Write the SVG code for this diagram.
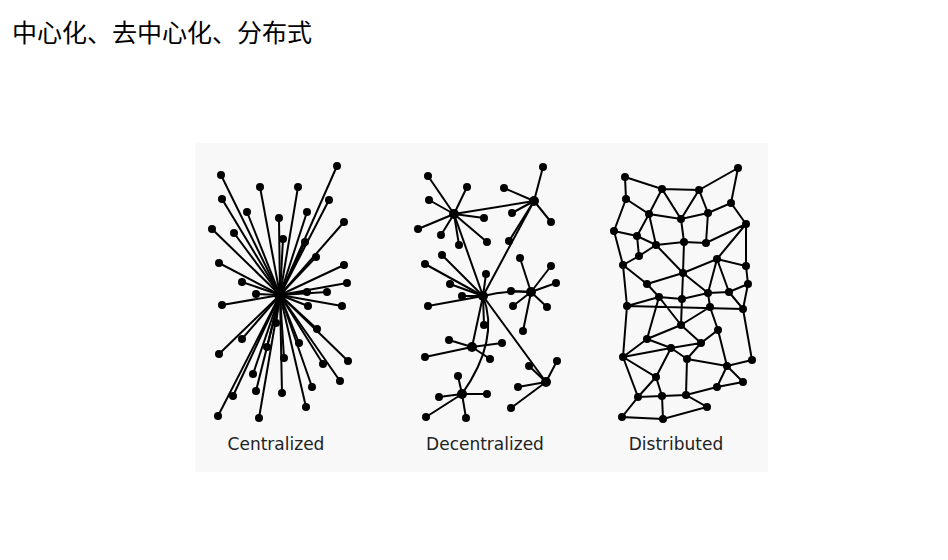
<svg xmlns="http://www.w3.org/2000/svg" width="948" height="560" viewBox="0 0 948 560">
<style>
.e line,.e path{stroke:#000;stroke-width:2;fill:none}
.n circle{fill:#000}
.lbl{font-family:"DejaVu Sans",sans-serif;font-size:17px;fill:#222;text-anchor:middle}
</style>
<rect width="948" height="560" fill="#fff"/>
<text x="12" y="42" font-family="'Noto Sans CJK SC',sans-serif" font-size="25" fill="#000">中心化、去中心化、分布式</text>
<rect x="195" y="143" width="573" height="329" fill="#f8f8f8"/>
<g id="centralized">
<g class="e" id="c-edges">
<line x1="280" y1="295" x2="221" y2="175"/><line x1="280" y1="295" x2="260" y2="187"/><line x1="280" y1="295" x2="298" y2="187"/><line x1="280" y1="295" x2="337" y2="166"/><line x1="280" y1="295" x2="222" y2="199"/><line x1="280" y1="295" x2="247" y2="212"/><line x1="280" y1="295" x2="279" y2="218"/><line x1="280" y1="295" x2="307" y2="212"/><line x1="280" y1="295" x2="329" y2="200"/><line x1="280" y1="295" x2="344" y2="222"/><line x1="280" y1="295" x2="212" y2="229"/><line x1="280" y1="295" x2="234" y2="233"/><line x1="280" y1="295" x2="283" y2="239"/><line x1="280" y1="295" x2="305" y2="242"/><line x1="280" y1="295" x2="316" y2="257"/><line x1="280" y1="295" x2="219" y2="263"/><line x1="280" y1="295" x2="344" y2="265"/><line x1="280" y1="295" x2="242" y2="282"/><line x1="280" y1="295" x2="347" y2="283"/><line x1="280" y1="295" x2="327" y2="292"/><line x1="280" y1="295" x2="307" y2="292"/><line x1="280" y1="295" x2="256" y2="294"/><line x1="280" y1="295" x2="222" y2="305"/><line x1="280" y1="295" x2="308" y2="306"/><line x1="280" y1="295" x2="342" y2="306"/><line x1="280" y1="295" x2="276" y2="323"/><line x1="280" y1="295" x2="317" y2="329"/><line x1="280" y1="295" x2="242" y2="339"/><line x1="280" y1="295" x2="267" y2="347"/><line x1="280" y1="295" x2="299" y2="343"/><line x1="280" y1="295" x2="219" y2="354"/><line x1="280" y1="295" x2="284" y2="358"/><line x1="280" y1="295" x2="323" y2="364"/><line x1="280" y1="295" x2="348" y2="361"/><line x1="280" y1="295" x2="253" y2="374"/><line x1="280" y1="295" x2="340" y2="381"/><line x1="280" y1="295" x2="312" y2="387"/><line x1="280" y1="295" x2="256" y2="391"/><line x1="280" y1="295" x2="282" y2="393"/><line x1="280" y1="295" x2="233" y2="396"/><line x1="280" y1="295" x2="306" y2="407"/><line x1="280" y1="295" x2="218" y2="416"/><line x1="280" y1="295" x2="259" y2="418"/>
</g>
<g class="n" id="c-nodes">
<circle cx="280" cy="295" r="6"/><circle cx="221" cy="175" r="4"/><circle cx="260" cy="187" r="4"/><circle cx="298" cy="187" r="4"/><circle cx="337" cy="166" r="4"/><circle cx="222" cy="199" r="4"/><circle cx="247" cy="212" r="4"/><circle cx="279" cy="218" r="4"/><circle cx="307" cy="212" r="4"/><circle cx="329" cy="200" r="4"/><circle cx="344" cy="222" r="4"/><circle cx="212" cy="229" r="4"/><circle cx="234" cy="233" r="4"/><circle cx="283" cy="239" r="4"/><circle cx="305" cy="242" r="4"/><circle cx="316" cy="257" r="4"/><circle cx="219" cy="263" r="4"/><circle cx="344" cy="265" r="4"/><circle cx="242" cy="282" r="4"/><circle cx="347" cy="283" r="4"/><circle cx="327" cy="292" r="4"/><circle cx="307" cy="292" r="4"/><circle cx="256" cy="294" r="4"/><circle cx="222" cy="305" r="4"/><circle cx="308" cy="306" r="4"/><circle cx="342" cy="306" r="4"/><circle cx="276" cy="323" r="4"/><circle cx="317" cy="329" r="4"/><circle cx="242" cy="339" r="4"/><circle cx="267" cy="347" r="4"/><circle cx="299" cy="343" r="4"/><circle cx="219" cy="354" r="4"/><circle cx="284" cy="358" r="4"/><circle cx="323" cy="364" r="4"/><circle cx="348" cy="361" r="4"/><circle cx="253" cy="374" r="4"/><circle cx="340" cy="381" r="4"/><circle cx="312" cy="387" r="4"/><circle cx="256" cy="391" r="4"/><circle cx="282" cy="393" r="4"/><circle cx="233" cy="396" r="4"/><circle cx="306" cy="407" r="4"/><circle cx="218" cy="416" r="4"/><circle cx="259" cy="418" r="4"/>
</g>
<text class="lbl" x="276" y="450">Centralized</text>
</g>
<g id="decentralized">
<g class="e" id="d-edges">
<line x1="454" y1="214" x2="428" y2="176"/><line x1="454" y1="214" x2="467" y2="187"/><line x1="454" y1="214" x2="429" y2="200"/><line x1="454" y1="214" x2="484" y2="218"/><line x1="454" y1="214" x2="418" y2="229"/><line x1="454" y1="214" x2="441" y2="235"/><line x1="454" y1="214" x2="487" y2="242"/><line x1="454" y1="214" x2="459" y2="245"/>
<line x1="534" y1="201" x2="543" y2="167"/><line x1="534" y1="201" x2="504" y2="188"/><line x1="534" y1="201" x2="512" y2="213"/><line x1="534" y1="201" x2="551" y2="222"/><line x1="534" y1="201" x2="509" y2="241"/><line x1="534" y1="201" x2="454" y2="214"/>
<line x1="483" y1="296" x2="454" y2="214"/><line x1="483" y1="296" x2="534" y2="201"/>
<line x1="483" y1="296" x2="442" y2="255"/><line x1="483" y1="296" x2="425" y2="264"/><line x1="483" y1="296" x2="486" y2="274"/><line x1="483" y1="296" x2="450" y2="284"/><line x1="483" y1="296" x2="462" y2="296"/><line x1="483" y1="296" x2="428" y2="306"/><line x1="483" y1="296" x2="484" y2="325"/>
<path d="M483 296 Q507 290 531 292"/>
<line x1="531" y1="292" x2="520" y2="258"/><line x1="531" y1="292" x2="551" y2="266"/><line x1="531" y1="292" x2="556" y2="283"/><line x1="531" y1="292" x2="511" y2="291"/><line x1="531" y1="292" x2="513" y2="306"/><line x1="531" y1="292" x2="547" y2="307"/><line x1="531" y1="292" x2="523" y2="331"/>
<line x1="483" y1="296" x2="472" y2="347"/>
<line x1="472" y1="347" x2="449" y2="340"/><line x1="472" y1="347" x2="502" y2="343"/><line x1="472" y1="347" x2="425" y2="357"/><line x1="472" y1="347" x2="490" y2="359"/>
<line x1="483" y1="296" x2="546" y2="382"/>
<line x1="546" y1="382" x2="529" y2="366"/><line x1="546" y1="382" x2="557" y2="361"/><line x1="546" y1="382" x2="518" y2="387"/><line x1="546" y1="382" x2="511" y2="408"/>
<path d="M483 296 Q500 340 462 394"/>
<line x1="462" y1="394" x2="458" y2="376"/><line x1="462" y1="394" x2="487" y2="394"/><line x1="462" y1="394" x2="439" y2="397"/><line x1="462" y1="394" x2="426" y2="417"/><line x1="462" y1="394" x2="466" y2="418"/>
</g>
<g class="n" id="d-nodes">
<circle cx="454" cy="214" r="5"/><circle cx="534" cy="201" r="5"/><circle cx="483" cy="296" r="5"/><circle cx="531" cy="292" r="5"/><circle cx="472" cy="347" r="5"/><circle cx="546" cy="382" r="5"/><circle cx="462" cy="394" r="5"/>
<circle cx="428" cy="176" r="4"/><circle cx="467" cy="187" r="4"/><circle cx="429" cy="200" r="4"/><circle cx="484" cy="218" r="4"/><circle cx="418" cy="229" r="4"/><circle cx="441" cy="235" r="4"/><circle cx="487" cy="242" r="4"/><circle cx="459" cy="245" r="4"/>
<circle cx="543" cy="167" r="4"/><circle cx="504" cy="188" r="4"/><circle cx="512" cy="213" r="4"/><circle cx="551" cy="222" r="4"/><circle cx="509" cy="241" r="4"/>
<circle cx="442" cy="255" r="4"/><circle cx="425" cy="264" r="4"/><circle cx="486" cy="274" r="4"/><circle cx="450" cy="284" r="4"/><circle cx="462" cy="296" r="4"/><circle cx="428" cy="306" r="4"/><circle cx="484" cy="325" r="4"/>
<circle cx="520" cy="258" r="4"/><circle cx="551" cy="266" r="4"/><circle cx="556" cy="283" r="4"/><circle cx="511" cy="291" r="4"/><circle cx="513" cy="306" r="4"/><circle cx="547" cy="307" r="4"/><circle cx="523" cy="331" r="4"/>
<circle cx="449" cy="340" r="4"/><circle cx="502" cy="343" r="4"/><circle cx="425" cy="357" r="4"/><circle cx="490" cy="359" r="4"/>
<circle cx="529" cy="366" r="4"/><circle cx="557" cy="361" r="4"/><circle cx="518" cy="387" r="4"/><circle cx="511" cy="408" r="4"/>
<circle cx="458" cy="376" r="4"/><circle cx="487" cy="394" r="4"/><circle cx="439" cy="397" r="4"/><circle cx="426" cy="417" r="4"/><circle cx="466" cy="418" r="4"/>
</g>
<text class="lbl" x="485" y="450">Decentralized</text>
</g>
<g id="distributed">
<g class="e" id="m-edges">
<path d="M625 177L662 189L699 190L738 168M625 177L626 199M738 168L731 203M662 189L649 214M662 189L681 219L699 190L708 213M626 199L649 214L681 219L708 213L731 203L746 224M626 199L614 231L637 236L656 245L684 242L706 243L746 224M708 213L706 243M681 219L684 242M649 214L637 236M649 214L656 245M614 231L623 265M637 236L639 256L623 265M639 256L656 245M746 224L717 259M746 224L746 266M656 245L683 273M684 242L683 273M623 265L647 284M683 273L717 259L746 266L748 284M683 273L647 284M717 259L708 293M717 259L729 292M623 265L627 306M647 284L659 297L682 299L708 293L729 292L748 284M683 273L708 293M682 299L683 273M659 297L627 306M627 306L623 357M627 306L743 309M659 297L681 325M682 299L681 325M708 293L710 307M729 292L743 309M748 284L743 309M710 307L718 330M681 325L710 307M743 309L752 360M681 325L647 339M659 297L647 339M681 325L701 343M647 339L671 348L701 343L718 330L727 366M623 357L647 339M623 357L671 348M671 348L687 359L701 343M687 359L727 366L752 360M727 366L743 382M623 357L656 377L671 348M656 377L638 397M656 377L662 396M638 397L662 396L686 395L717 387L743 382M687 359L686 395M717 387L727 366M623 357L638 397L622 417L663 419L707 407L686 395M662 396L663 419"/>
</g>
<g class="n" id="m-nodes">
<circle cx="625" cy="177" r="4"/><circle cx="662" cy="189" r="4"/><circle cx="699" cy="190" r="4"/><circle cx="738" cy="168" r="4"/><circle cx="626" cy="199" r="4"/><circle cx="649" cy="214" r="4"/><circle cx="681" cy="219" r="4"/><circle cx="708" cy="213" r="4"/><circle cx="731" cy="203" r="4"/><circle cx="746" cy="224" r="4"/><circle cx="614" cy="231" r="4"/><circle cx="637" cy="236" r="4"/><circle cx="656" cy="245" r="4"/><circle cx="684" cy="242" r="4"/><circle cx="706" cy="243" r="4"/><circle cx="717" cy="259" r="4"/><circle cx="639" cy="256" r="4"/><circle cx="623" cy="265" r="4"/><circle cx="746" cy="266" r="4"/><circle cx="683" cy="273" r="4"/><circle cx="647" cy="284" r="4"/><circle cx="748" cy="284" r="4"/><circle cx="659" cy="297" r="4"/><circle cx="682" cy="299" r="4"/><circle cx="708" cy="293" r="4"/><circle cx="729" cy="292" r="4"/><circle cx="627" cy="306" r="4"/><circle cx="710" cy="307" r="4"/><circle cx="743" cy="309" r="4"/><circle cx="681" cy="325" r="4"/><circle cx="718" cy="330" r="4"/><circle cx="647" cy="339" r="4"/><circle cx="671" cy="348" r="4"/><circle cx="701" cy="343" r="4"/><circle cx="623" cy="357" r="4"/><circle cx="687" cy="359" r="4"/><circle cx="727" cy="366" r="4"/><circle cx="752" cy="360" r="4"/><circle cx="656" cy="377" r="4"/><circle cx="717" cy="387" r="4"/><circle cx="743" cy="382" r="4"/><circle cx="638" cy="397" r="4"/><circle cx="662" cy="396" r="4"/><circle cx="686" cy="395" r="4"/><circle cx="707" cy="407" r="4"/><circle cx="622" cy="417" r="4"/><circle cx="663" cy="419" r="4"/>
</g>
<text class="lbl" x="676" y="450">Distributed</text>
</g>
</svg>
